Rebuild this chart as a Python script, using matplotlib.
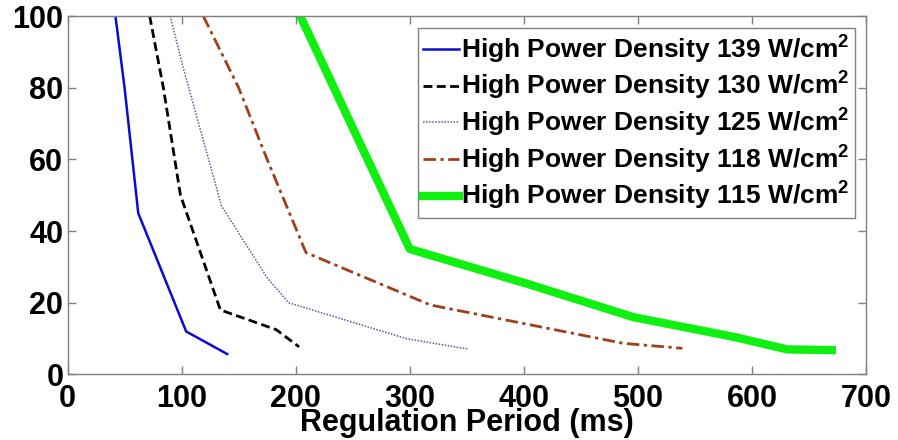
import matplotlib
matplotlib.use("Agg")
import matplotlib.pyplot as plt

plt.rcParams["font.family"] = ["Liberation Sans", "DejaVu Sans"]
plt.rcParams["font.weight"] = "bold"
plt.rcParams["mathtext.fontset"] = "custom"
plt.rcParams["mathtext.rm"] = "Liberation Sans:bold"
plt.rcParams["mathtext.it"] = "Liberation Sans:bold"
plt.rcParams["mathtext.bf"] = "Liberation Sans:bold"

# Regulation period (ms) vs. value for each power density
p139_x = [42, 50, 62, 104, 140]
p139_y = [100, 80, 45, 12, 5.7]

p130_x = [72, 84, 99, 134, 183, 203]
p130_y = [100, 80, 50, 18, 12.5, 7.7]

p125_x = [90, 101, 135, 175, 194, 297, 351]
p125_y = [100, 86, 47, 27, 20, 10, 7.1]

p118_x = [119, 150, 175, 209, 318, 487, 539]
p118_y = [100, 80, 60, 34, 19.4, 8.7, 7.3]

p115_x = [204, 300, 402, 496, 584, 631, 670]
p115_y = [100, 35, 25.4, 16, 10.5, 7.0, 6.8]

labels = [
    "High Power Density 139 W/cm$^{2}$",
    "High Power Density 130 W/cm$^{2}$",
    "High Power Density 125 W/cm$^{2}$",
    "High Power Density 118 W/cm$^{2}$",
    "High Power Density 115 W/cm$^{2}$",
]

x_ticks = [0, 100, 200, 300, 400, 500, 600, 700]
y_ticks = [0, 20, 40, 60, 80, 100]

fig = plt.figure(figsize=(8.98, 4.40), dpi=100)
ax = fig.add_axes([0.0752, 0.1489, 0.8892, 0.8147])

ax.plot(p139_x, p139_y, color="#0a0ad0", lw=1.8, label=labels[0])
ax.plot(p130_x, p130_y, color="black", lw=2.0, ls=(0, (3.2, 1.6)), label=labels[1])
ax.plot(p125_x, p125_y, color="#5a5aa0", lw=1.1, ls=(0, (1, 1)), label=labels[2])
ax.plot(p118_x, p118_y, color="#a0401a", lw=2.0, ls=(0, (4.5, 1.6, 1.2, 1.6)), label=labels[3])
ax.plot(p115_x, p115_y, color="#10f010", lw=6.0, label=labels[4])

ax.set_xlim(0, 700)
ax.set_ylim(0, 100)
ax.set_xticks(x_ticks)
ax.set_yticks(y_ticks)
ax.tick_params(direction="in", top=True, right=True, length=6, width=1,
               color="#808080", labelsize=22, pad=3)
ax.tick_params(axis="x", pad=6.5)
for lab in ax.get_xticklabels() + ax.get_yticklabels():
    lab.set_fontweight("bold")
for sp in ax.spines.values():
    sp.set_color("#808080")
    sp.set_linewidth(1.0)

ax.set_xlabel("Regulation Period (ms)", fontsize=22, fontweight="bold")
ax.xaxis.label.set_verticalalignment("baseline")
ax.xaxis.set_label_coords(0.5, -0.158)

leg = ax.legend(loc="upper right", bbox_to_anchor=(0.986, 0.9665), fontsize=19,
                frameon=True, fancybox=False, framealpha=1, edgecolor="#808080",
                handlelength=1.35, handletextpad=0.1, labelspacing=0.17,
                borderpad=0.2, borderaxespad=0)
leg.get_frame().set_linewidth(1.0)
for t in leg.get_texts():
    t.set_fontweight("bold")

fig.savefig("out.png", dpi=100, facecolor="white")
